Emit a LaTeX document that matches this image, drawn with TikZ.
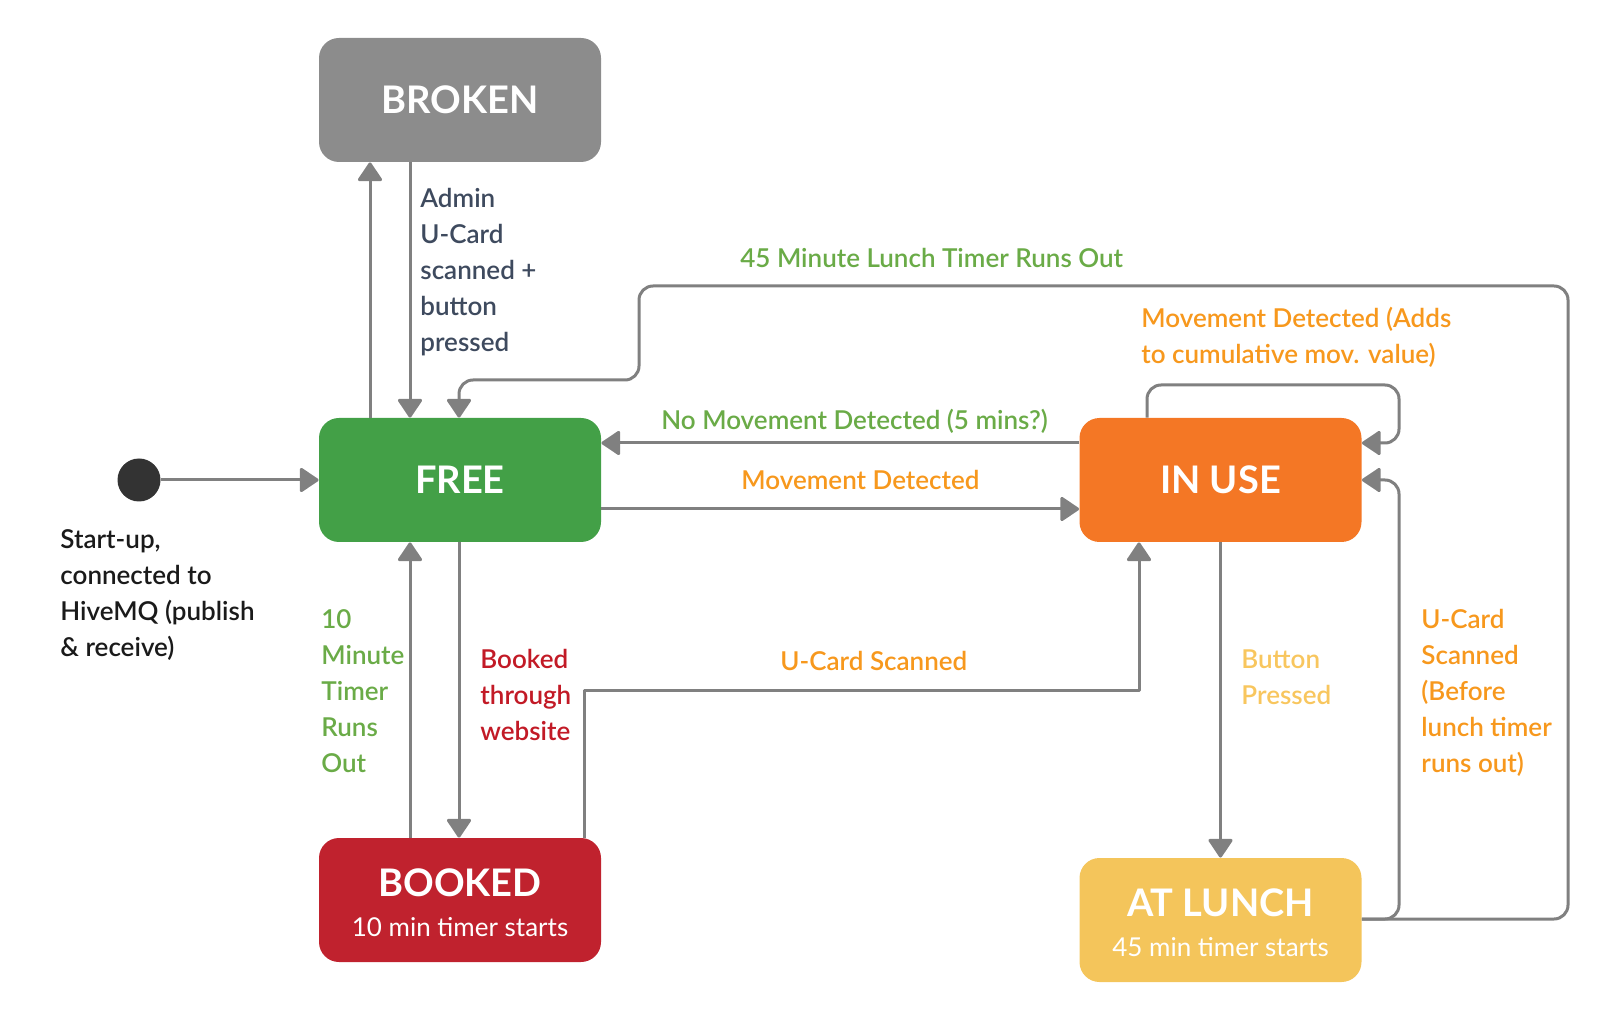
\documentclass[tikz,border=0pt]{standalone}
\usepackage{fontspec}
\setmainfont{Lato}
\newfontfamily\lblfont{Lato Semibold}
\usetikzlibrary{arrows.meta}
\definecolor{cbroken}{HTML}{8C8C8C}
\definecolor{cfree}{HTML}{43A047}
\definecolor{cinuse}{HTML}{F47725}
\definecolor{cbooked}{HTML}{C0222E}
\definecolor{clunch}{HTML}{F4C55B}
\definecolor{cline}{HTML}{808080}
\definecolor{cdot}{HTML}{333333}
\definecolor{tslate}{HTML}{3E4A5E}
\definecolor{tgreen}{HTML}{6AAB47}
\definecolor{torange}{HTML}{F7981D}
\definecolor{tred}{HTML}{C21A26}
\definecolor{tyellow}{HTML}{F8C65E}
\definecolor{tblack}{HTML}{1A1A1A}
\begin{document}
\begin{tikzpicture}[x=0.5pt,y=-0.5pt,
  state/.style={rectangle, rounded corners=10pt, minimum width=141pt, minimum height=62pt,
    inner sep=0pt, text=white, align=center, font=\fontsize{19}{22}\selectfont\bfseries},
  lbl/.style={inner sep=0pt, align=left, anchor=base west, font=\lblfont\fontsize{13}{18}\selectfont},
  conn/.style={draw=cline, line width=1.5pt, -{Triangle[width=13pt,length=10pt,round]}, line join=round},
  loopc/.style={conn, rounded corners=7pt}]
\useasboundingbox (0,0) rectangle (1620,1020);

% states
\node[state, fill=cbroken] (broken) at (460,100) {BROKEN};
\node[state, fill=cfree] (free) at (460,480) {FREE};
\node[state, fill=cinuse] (inuse) at (1220.5,480) {IN USE};
\node[state, fill=cbooked] (booked) at (460,900) {\rule{0pt}{17pt}BOOKED\\[-2pt]{\fontsize{13}{15}\selectfont\mdseries 10 min timer starts}};
\node[state, fill=clunch] (atlunch) at (1220.5,920) {\rule{0pt}{17pt}AT LUNCH\\[-2pt]{\fontsize{13}{15}\selectfont\mdseries 45 min timer starts}};
\node[circle, fill=cdot, minimum size=21.5pt, inner sep=0pt] (start) at (139,480) {};

% connectors
\draw[conn] (start.east) -- (free.west);
\draw[conn] (free.north -| 370,0) -- (broken.south -| 370,0);
\draw[conn] (broken.south -| 410,0) -- (free.north -| 410,0);
\draw[conn] (booked.north -| 410,0) -- (free.south -| 410,0);
\draw[conn] (free.south -| 459,0) -- (booked.north -| 459,0);
\draw[conn] (inuse.west |- 0,443) -- (free.east |- 0,443);
\draw[conn] (free.east |- 0,509) -- (inuse.west |- 0,509);
\draw[conn] (booked.north -| 584,0) |- (1139,690) -- (inuse.south -| 1139,0);
\draw[conn] (inuse.south) -- (atlunch.north);
\draw[loopc] (inuse.north -| 1147,0) |- (1399,385) |- (inuse.east |- 0,443);
\draw[loopc] (atlunch.east |- 0,919) -| (1399,480) -- (inuse.east |- 0,480);
\draw[loopc] (atlunch.east |- 0,919) -| (1568,286) -| (639,380) -| (free.north -| 459,0);

% labels (anchored at the baseline of the last line)
\node[lbl, text=tslate] (lbadmin) at (420,352) {Admin\\U-Card\\scanned +\\button\\pressed};
\node[lbl, text=tblack] (lbstart) at (60,656) {Start-up,\\connected to\\HiveMQ (publish\\\& receive)};
\node[lbl, text=tgreen] (lbten) at (321,772) {10\\Minute\\Timer\\Runs\\Out};
\node[lbl, text=tred] (lbbooked) at (480,740) {Booked\\through\\website};
\node[lbl, text=torange] (lbucard) at (780,670) {U-Card Scanned};
\node[lbl, text=tyellow] (lbbutton) at (1241,704) {Button\\Pressed};
\node[lbl, text=torange] (lbucard2) at (1421,772) {U-Card\\Scanned\\(Before\\lunch timer\\runs out)};
\node[lbl, text=tgreen] (lblunch) at (740,268) {45 Minute Lunch Timer Runs Out};
\node[lbl, text=torange] (lbadds) at (1141,364) {Movement Detected (Adds\\to cumulative mov. value)};
\node[lbl, text=tgreen] (lbnomove) at (661,430) {No Movement Detected (5 mins?)};
\node[lbl, text=torange] (lbmove) at (741,490) {Movement Detected};
\end{tikzpicture}
\end{document}
